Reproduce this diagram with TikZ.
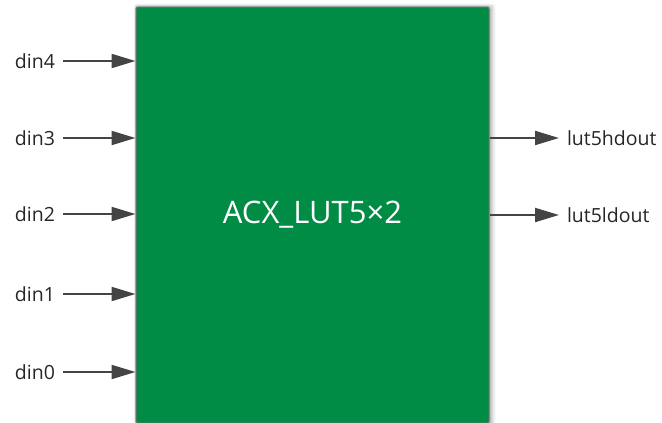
\documentclass[tikz,border=0pt]{standalone}
\usepackage{fontspec}
\setmainfont{Open Sans}
\usetikzlibrary{arrows.meta}
\definecolor{boxgreen}{HTML}{008C44}
\definecolor{arrgray}{HTML}{444444}
\tikzset{
  blockbox/.style={draw=black!55, line width=1pt, fill=boxgreen, rounded corners=2pt,
    minimum width=353pt, minimum height=416pt, inner sep=0pt, text=white,
    font=\fontsize{31}{34}\selectfont},
  portlabel/.style={inner sep=0pt, outer sep=8pt, font=\fontsize{19.5}{22}\selectfont, text=black!85},
  sig/.style={draw=arrgray, line width=2pt, -{Triangle[length=24pt, width=14pt]}, arrgray},
}
\begin{document}
\begin{tikzpicture}[x=1pt, y=-1pt]
\useasboundingbox (0,0) rectangle (662,423);
\clip (0,0) rectangle (662,423);
% shadow
\foreach \i/\o in {1/0.10,2/0.08,3/0.06,4/0.05,5/0.04,6/0.03,7/0.02} {
  \fill[black, opacity=\o, rounded corners=3pt] (136-\i*0.3,7-\i*0.5) rectangle (489+\i,430);
}
\node[blockbox] (box) at (312.5,215) {ACX\_LUT5×2};
\foreach \n/\y in {4/61,3/138,2/214,1/294,0/372} {
  \node[portlabel, anchor=east] (din\n) at (63,\y) {din\n};
  \draw[sig] (din\n.east) -- (box.west |- din\n.east);
}
\node[portlabel, anchor=west] (hout) at (559,138) {lut5hdout};
\node[portlabel, anchor=west] (lout) at (559,215) {lut5ldout};
\draw[sig] (box.east |- hout.west) -- (hout.west);
\draw[sig] (box.east |- lout.west) -- (lout.west);
\end{tikzpicture}
\end{document}
